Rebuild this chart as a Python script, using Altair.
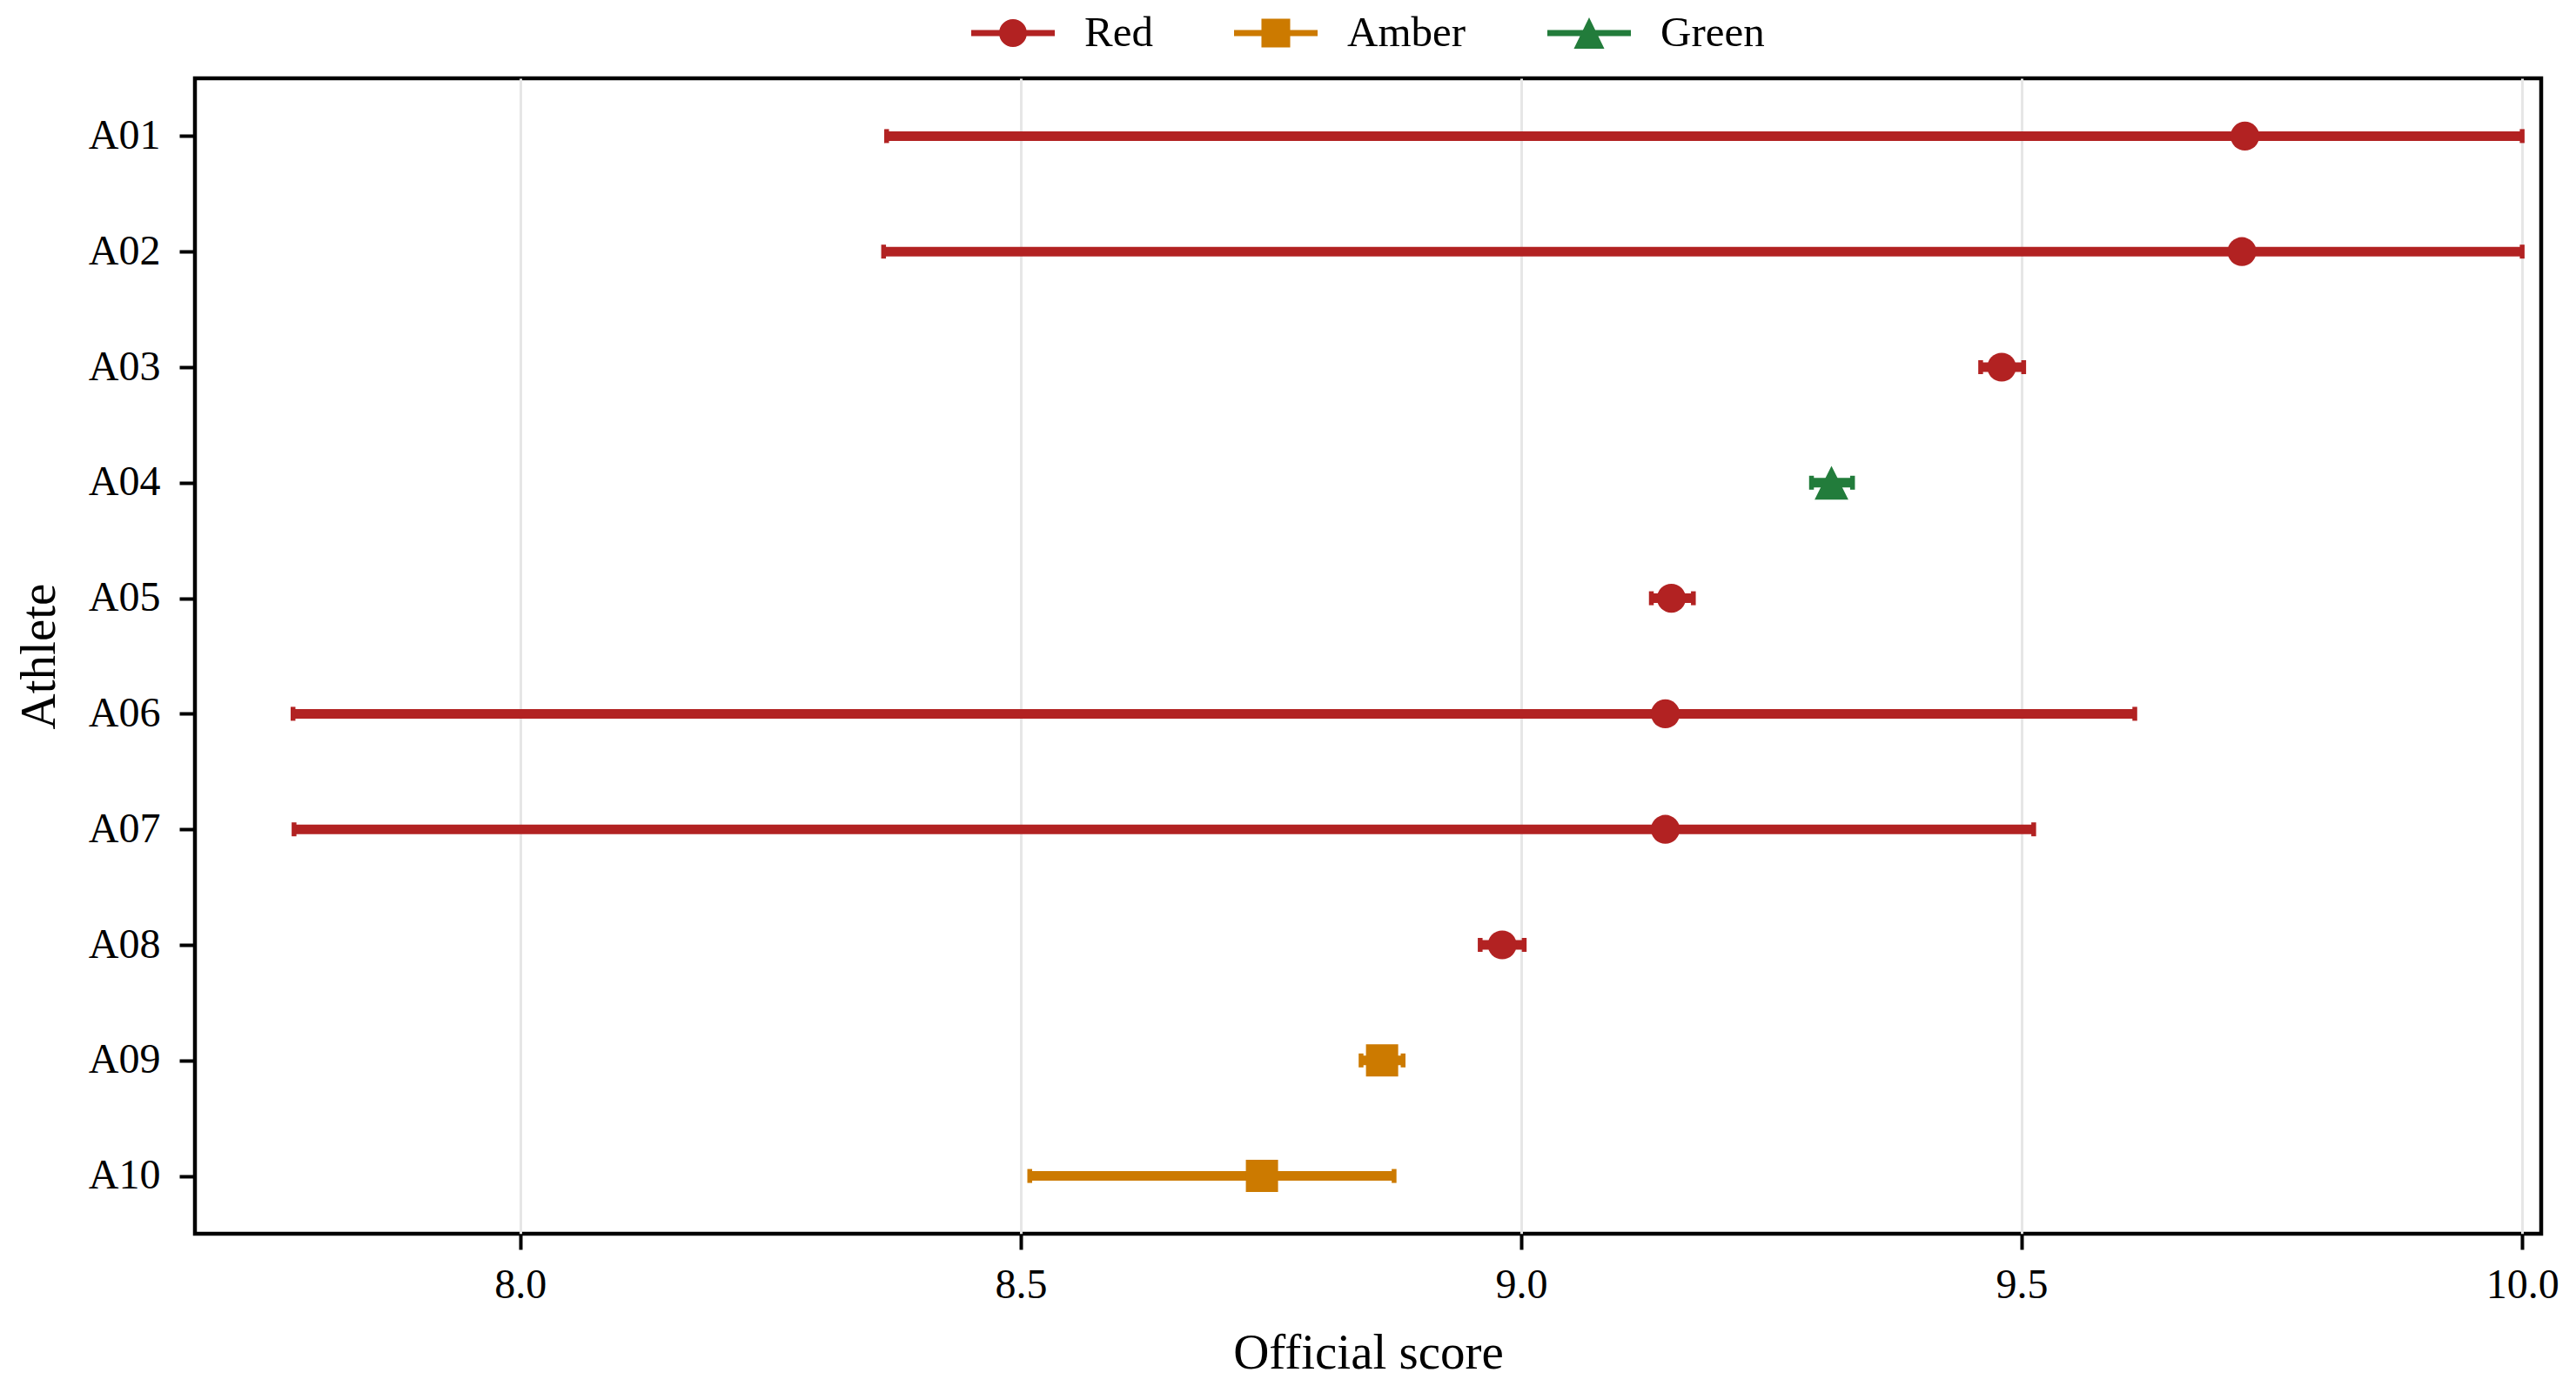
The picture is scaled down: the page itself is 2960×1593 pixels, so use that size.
import altair as alt
import pandas as pd

# ---- data ----
athletes = ["A01", "A02", "A03", "A04", "A05", "A06", "A07", "A08", "A09", "A10"]
status = ["Red", "Red", "Red", "Green", "Red", "Red", "Red", "Red", "Amber", "Amber"]
score = [9.723, 9.720, 9.480, 9.310, 9.150, 9.144, 9.144, 8.981, 8.861, 8.741]
low = [8.366, 8.363, 9.459, 9.290, 9.130, 7.773, 7.774, 8.959, 8.840, 8.509]
high = [10.0, 10.0, 9.502, 9.331, 9.172, 9.613, 9.512, 9.003, 8.882, 8.873]

categories = ["Red", "Amber", "Green"]
colors = ["#b22222", "#cc7a00", "#227c3b"]
x_ticks = [8.0, 8.5, 9.0, 9.5, 10.0]

df = pd.DataFrame({"athlete": athletes, "status": status,
                   "score": score, "low": low, "high": high})

FONT = "Liberation Serif"

y_enc = alt.Y("athlete:N", scale=alt.Scale(type="point", domain=athletes, padding=0.5),
              axis=alt.Axis(title="Athlete", titleFontSize=57, titleFontWeight="normal",
                            titleX=-162, titleBaseline="alphabetic",
                            labelFontSize=48, labelPadding=22, labelColor="black",
                            tickSize=18, tickWidth=4, tickColor="black",
                            domain=False, grid=False))
x_scale = alt.Scale(domain=[7.675, 10.019], nice=False, zero=False)
x_axis = alt.Axis(title="Official score", titleFontSize=57, titleFontWeight="normal",
                  titleY=154, titleBaseline="alphabetic",
                  values=x_ticks, format=".1f", labelFontSize=48, labelPadding=17,
                  labelColor="black", tickSize=18, tickWidth=4, tickColor="black",
                  domain=False, grid=True, gridColor="#e6e6e6", gridWidth=3)
color_scale = alt.Scale(domain=categories, range=colors)
color_enc = alt.Color("status:N", scale=color_scale, legend=None)

base = alt.Chart(df)

# legend: line + marker glyphs (unit paths, scaled by symbolSize)
line = "M-1,-0.073H1V0.073H-1Z"
leg_circle = line + "M0.333,0A0.333,0.333 0 1,1 -0.333,0A0.333,0.333 0 1,1 0.333,0Z"
leg_square = line + "M-0.344,-0.344H0.344V0.344H-0.344Z"
leg_tri = line + "M0,-0.375L0.365,0.375L-0.365,0.375Z"

leg_props = dict(title=None, orient="none", legendX=892, legendY=-100,
                 direction="horizontal", symbolSize=9216, symbolStrokeWidth=0,
                 labelFontSize=49, labelOffset=34, columnPadding=93, padding=0,
                 labelColor="black", symbolOpacity=1)

legend_layer = base.mark_point(filled=True, opacity=0, size=9216).encode(
    x=alt.X("score:Q", scale=x_scale, axis=x_axis),
    y=y_enc,
    color=alt.Color("status:N", scale=color_scale, legend=alt.Legend(**leg_props)),
    shape=alt.Shape("status:N", scale=alt.Scale(domain=categories,
                                                range=[leg_circle, leg_square, leg_tri]),
                    legend=alt.Legend(**leg_props)),
)

rules = base.mark_rule(strokeWidth=11, strokeCap="butt").encode(
    x=alt.X("low:Q", scale=x_scale, axis=x_axis),
    x2="high:Q",
    y=y_enc,
    color=color_enc,
)
cap_lo = base.mark_tick(orient="vertical", thickness=5.5, size=16, opacity=1).encode(
    x=alt.X("low:Q", scale=x_scale, axis=x_axis), y=y_enc, color=color_enc)
cap_hi = base.mark_tick(orient="vertical", thickness=5.5, size=16, opacity=1).encode(
    x=alt.X("high:Q", scale=x_scale, axis=x_axis), y=y_enc, color=color_enc)

shapes = {"Red": ("circle", 1100), "Amber": ("square", 1369), "Green": ("M0,-1L1,1L-1,1Z", 1500)}
point_layers = []
for cat in categories:
    shp, sz = shapes[cat]
    point_layers.append(
        base.transform_filter(alt.datum.status == cat)
        .mark_point(filled=True, shape=shp, size=sz, opacity=1, strokeWidth=0)
        .encode(x=alt.X("score:Q", scale=x_scale, axis=x_axis), y=y_enc, color=color_enc)
    )

chart = alt.layer(legend_layer, rules, cap_lo, cap_hi, *point_layers).properties(
    width=2696, height=1328,
    autosize=alt.AutoSizeParams(type="none"),
    padding={"left": 216, "top": 82, "right": 32, "bottom": 167},
).configure(font=FONT).configure_view(stroke="black", strokeWidth=4.5)

chart.save("out.html", embed_options={"renderer": "svg", "actions": False})
